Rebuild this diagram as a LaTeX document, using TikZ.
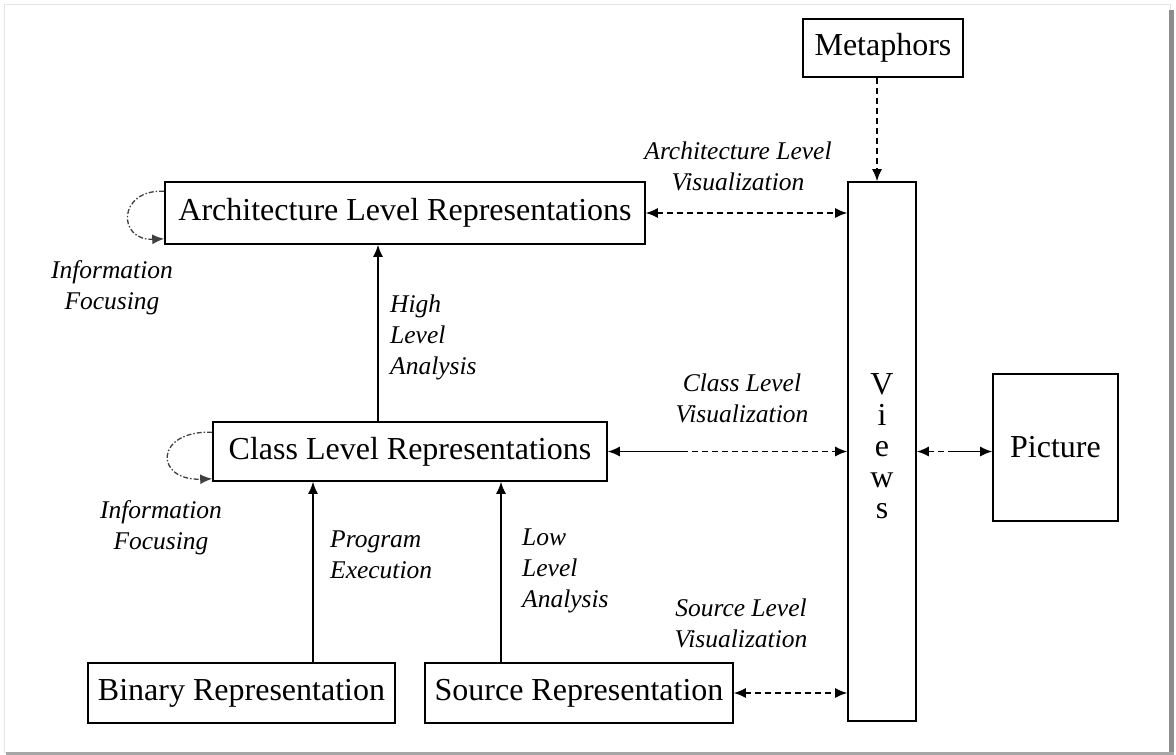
\documentclass[tikz,border=0pt]{standalone}
\usepackage{fontspec}
\setmainfont{Liberation Serif}
\usetikzlibrary{arrows.meta}
\begin{document}
\begin{tikzpicture}[x=1pt,y=-1pt,
  box/.style={draw=black, line width=1.6pt, fill=white, inner sep=0pt,
    font=\fontsize{32}{36}\selectfont},
  lbl/.style={font=\fontsize{25.5}{31}\selectfont\itshape, inner sep=0pt},
  conn/.style={line width=1.5pt, black},
  dsh/.style={conn, dash pattern=on 6pt off 4pt},
  loopst/.style={line width=1.3pt, black!75, dash pattern=on 5pt off 2pt on 1.5pt off 2pt},
  >={Latex[length=12pt,width=10pt]}
]
\useasboundingbox (0,0) rectangle (1176,755);
% frame
\draw[black!10, line width=0.8pt] (4,4) rectangle (1170,752);
\fill[black!45] (1169,10) rectangle (1174,755);
\fill[black!35] (6,752) rectangle (1174,755);

% boxes
\node[box, minimum width=160pt, minimum height=58pt] (meta) at (883,48) {Metaphors};
\node[box, minimum width=480pt, minimum height=62pt] (arch) at (405,213) {Architecture Level Representations};
\node[box, minimum width=394pt, minimum height=59pt] (class) at (410,451.5) {Class Level Representations};
\node[box, minimum width=307pt, minimum height=60pt] (binary) at (241.5,693) {Binary Representation};
\node[box, minimum width=308pt, minimum height=60pt] (source) at (579,693) {Source Representation};
\node[box, minimum width=68pt, minimum height=539pt] (views) at (882,451.5) {};
\node[box, minimum width=125pt, minimum height=147pt] (picture) at (1055.5,447.5) {Picture};
\node[inner sep=0pt, align=center, font=\fontsize{32}{31}\selectfont] (viewstext) at (882,446) {V\\i\\e\\w\\s};

% labels
\node[lbl, align=center] (lav) at (738,166) {Architecture Level\\Visualization};
\node[lbl, align=center] (lcv) at (742,398) {Class Level\\Visualization};
\node[lbl, align=center] (lsv) at (741,623) {Source Level\\Visualization};
\node[lbl, align=center] (lif1) at (112,288) {Information\\Focusing};
\node[lbl, align=center] (lif2) at (161,528) {Information\\Focusing};
\node[lbl, align=left, anchor=west] (lhla) at (390,337) {High\\Level\\Analysis};
\node[lbl, align=left, anchor=west] (lpe) at (330,555) {Program\\Execution};
\node[lbl, align=left, anchor=west] (llla) at (522,571) {Low\\Level\\Analysis};

% connectors
\draw[dsh, <->] (arch.east) -- (arch.east -| views.west);
\coordinate (cmid) at (682,451.5);
\draw[conn, <-] (class.east) -- (cmid);
\draw[dsh, ->] (cmid) -- (cmid -| views.west);
\draw[dsh, <->] (source.east) -- (source.east -| views.west);
\coordinate (pmid) at (950,451.5);
\draw[dsh, <-] (views.east) -- (pmid);
\draw[conn, ->] (pmid) -- (pmid -| picture.west);
\draw[dsh, ->] ([xshift=-6pt]meta.south) -- ([xshift=-6pt]meta.south |- views.north);
\draw[conn, ->] ([xshift=-32pt]class.north) -- ([xshift=-32pt]class.north |- arch.south);
\draw[conn, ->] ([xshift=71.5pt]binary.north) -- ([xshift=71.5pt]binary.north |- class.south);
\draw[conn, ->] ([xshift=-78pt]source.north) -- ([xshift=-78pt]source.north |- class.south);

% self loops
\draw[loopst, ->] ([yshift=-10pt]arch.north west) .. controls +(-47,-2) and +(-47,2) .. ([yshift=6pt]arch.south west);
\draw[loopst, ->] ([yshift=-11pt]class.north west) .. controls +(-58,-2) and +(-58,2) .. ([yshift=3pt]class.south west);
\end{tikzpicture}
\end{document}
